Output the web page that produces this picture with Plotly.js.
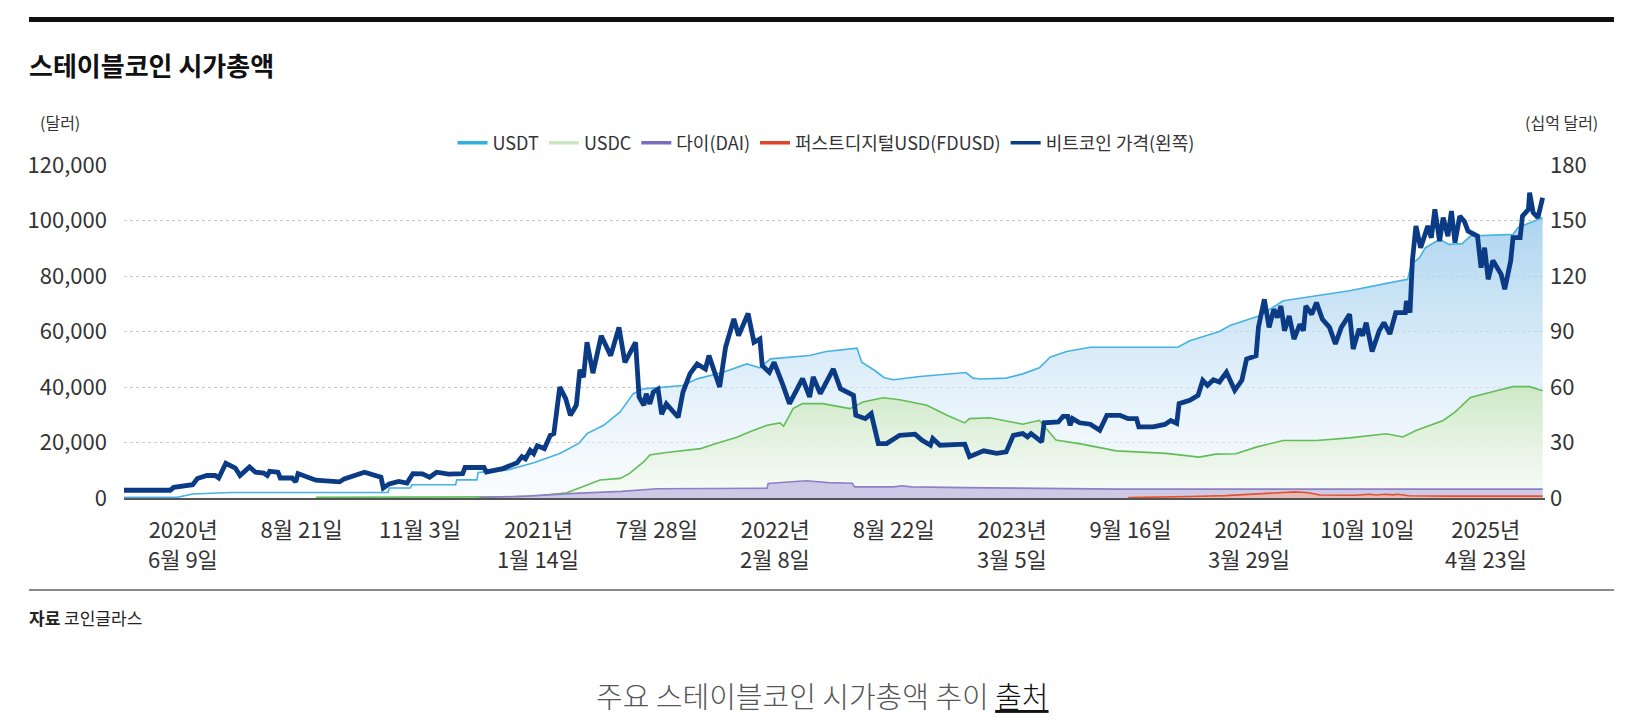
<!DOCTYPE html>
<html>
<head>
<meta charset="utf-8">
<script src="https://cdn.plot.ly/plotly-3.0.1.min.js"></script>
<style>
  html, body { margin: 0; padding: 0; background: #fff; }
  #chart { width: 1638px; height: 723px; }
</style>
</head>
<body>
<div id="chart"></div>
<script>
// time runs as a sample index: one tick label every 10 steps
const tickPos = [5, 15, 25, 35, 45, 55, 65, 75, 85, 95, 105, 115];
const tickTop = ['2020년', '8월 21일', '11월 3일', '2021년', '7월 28일', '2022년', '8월 22일',
  '2023년', '9월 16일', '2024년', '10월 10일', '2025년'];
const tickBottom = ['6월 9일', '', '', '1월 14일', '', '2월 8일', '', '3월 5일', '', '3월 29일', '', '4월 23일'];

// bitcoin price, dollars (left axis)
const btcT = [0, 3.9, 4.2, 5.8, 6.2, 7.0, 7.7, 8.0, 8.6, 9.4, 9.8, 10.6, 11.1, 11.8, 12.1, 12.3, 13.0, 13.2,
  14.2, 14.5, 14.7, 15.9, 16.2, 18.2, 18.6, 20.3, 21.1, 21.7, 21.9, 22.4, 23.2, 23.9, 24.4, 25.2, 25.8, 26.4,
  27.4, 28.6, 28.8, 30.4, 30.6, 32.0, 33.2, 33.6, 33.9, 34.3, 34.6, 34.9, 35.5, 36.0, 36.3, 36.8, 37.3, 37.7,
  38.2, 38.5, 38.8, 39.1, 39.6, 40.3, 41.1, 41.8, 42.3, 43.2, 43.5, 43.9, 44.1, 44.4, 44.7, 45.1, 45.4, 45.8,
  46.8, 47.2, 47.8, 48.4, 49.1, 49.4, 50.3, 50.8, 51.5, 51.9, 52.7, 53.2, 53.7, 53.9, 54.5, 54.9, 55.6, 56.2,
  57.3, 57.9, 58.2, 58.8, 59.9, 60.5, 61.6, 61.8, 62.6, 63.1, 63.7, 64.4, 65.5, 66.8, 67.4, 68.1, 68.3, 68.9,
  71.0, 71.4, 72.6, 73.7, 74.5, 75.1, 75.9, 76.3, 76.6, 77.5, 77.7, 78.9, 79.3, 79.7, 79.9, 80.1, 80.7, 81.6,
  82.4, 83.0, 84.1, 84.8, 85.5, 85.7, 86.9, 87.9, 88.4, 88.9, 89.1, 90.0, 90.7, 91.1, 91.5, 92.0, 92.5, 93.1,
  93.8, 94.4, 94.8, 95.6, 95.8, 96.3, 96.7, 97.1, 97.4, 97.7, 98.0, 98.4, 98.8, 99.3, 99.6, 99.8, 100.3, 100.7,
  101.2, 101.8, 102.3, 102.8, 103.5, 103.8, 104.3, 104.6, 104.9, 105.4, 106.0, 106.4, 106.9, 107.4, 108.2,
  108.3, 108.6, 108.8, 109.1, 109.5, 110.1, 110.4, 110.7, 111.1, 111.4, 111.8, 112.1, 112.4, 112.8, 113.2,
  113.5, 114.3, 114.6, 114.9, 115.2, 115.6, 116.3, 116.6, 117.1, 117.3, 117.9, 118.1, 118.6, 118.7, 119.0,
  119.4, 119.8];
const btcPrice = [2800, 2800, 3850, 4800, 7000, 8100, 8100, 7200, 12500, 10800, 8100, 11200, 9300, 9000, 8100,
  9600, 9300, 7200, 7200, 5800, 8800, 7200, 6400, 5800, 6900, 9300, 8400, 7500, 3600, 5100, 6000, 5400, 8800,
  8700, 7500, 9300, 8600, 8800, 11000, 11000, 9400, 10600, 12700, 14900, 14100, 17200, 16000, 18800, 17800,
  22600, 23200, 40000, 35800, 29800, 33400, 46200, 43500, 56100, 45000, 58500, 51300, 61500, 48900, 56100,
  36400, 33400, 37600, 33900, 38200, 39200, 30200, 33900, 29100, 38100, 44800, 48300, 46500, 51300, 40000,
  54300, 64500, 58500, 66500, 56100, 57300, 47700, 45300, 48900, 41200, 34000, 43000, 36400, 43600, 37600,
  46500, 39400, 37000, 29800, 28600, 30400, 19600, 19600, 22600, 23000, 20800, 19000, 21400, 19000, 19400,
  14900, 17000, 16100, 16600, 22600, 23200, 22000, 23200, 20200, 27100, 27400, 29400, 29400, 26200, 28600,
  27100, 26600, 24400, 29800, 29800, 28600, 28600, 25600, 25600, 26500, 27900, 26900, 34000, 35200, 37000,
  42400, 40600, 42600, 41800, 45300, 38800, 42400, 50100, 51300, 61500, 71600, 61500, 68000, 65000, 69200,
  60300, 65600, 57300, 62600, 60300, 69200, 66200, 70400, 64400, 61500, 55500, 61500, 66200, 53700, 60900,
  58500, 63200, 52800, 60300, 63200, 59100, 66800, 66800, 71000, 66800, 85400, 98000, 90200, 98000, 93800,
  104000, 92600, 101000, 94400, 103400, 92000, 101600, 99600, 96200, 94400, 83000, 90200, 78800, 85600,
  80600, 75200, 85400, 93800, 93800, 101600, 104000, 110000, 102800, 101000, 108200];

// stablecoin market caps, billions of dollars (right axis)
const usdtT = [0, 4.5, 5.8, 9, 22.3, 22.4, 24.2, 24.3, 28.0, 28.1, 29.8, 29.9, 32.3, 34.6, 36.8, 38.4, 39.1,
  40.5, 41.9, 43.0, 43.9, 47.2, 48.4, 50.6, 52.6, 53.7, 54.6, 57.9, 59.3, 61.9, 62.3, 63.4, 64.2, 65.0, 67.2,
  70.5, 71.1, 71.7, 72.3, 74.5, 75.9, 77.3, 78.2, 79.6, 81.6, 89.0, 90.0, 92.5, 93.4, 95.9, 97.9, 100.7,
  103.5, 106.3, 108.4, 108.7, 109.4, 109.9, 111.1, 111.9, 113.0, 113.7, 117.3, 117.7, 119.0, 119.8];
const usdtCap = [0.4, 0.4, 2.2, 3.0, 3.0, 5.4, 5.4, 7.2, 7.2, 9.8, 9.8, 13.8, 15.0, 19.1, 24.1, 29.5, 34.8,
  39.3, 46.5, 56.4, 59.0, 60.8, 64.4, 68.0, 72.5, 70.4, 75.2, 77.0, 79.2, 81.0, 73.4, 68.9, 65.0, 63.9, 65.7,
  67.5, 67.8, 64.8, 64.3, 64.8, 67.1, 70.4, 76.1, 79.2, 81.5, 81.5, 85.0, 90.0, 93.2, 98.5, 106.6, 109.3,
  112.0, 115.6, 118.2, 126.3, 129.9, 135.3, 139.8, 137.1, 137.5, 141.6, 142.5, 146.1, 149.3, 151.5];

const usdcT = [16.2, 33, 35, 37.4, 38.5, 40.2, 41.9, 42.7, 43.9, 44.4, 45.8, 48.7, 50.0, 51.7, 52.8, 54.3,
  55.4, 55.7, 56.2, 56.5, 57.3, 59.0, 61.3, 62.4, 64.1, 65.5, 67.8, 69.5, 71.0, 71.4, 73.1, 75.9, 77.3, 78.7,
  80.9, 83.8, 88.0, 90.8, 92.2, 93.9, 95.6, 97.9, 100.7, 103.5, 106.6, 108.0, 109.1, 111.4, 112.4, 113.7,
  115.9, 117.3, 118.7, 119.8];
const usdcCap = [0.4, 0.6, 1.2, 2.8, 5.5, 9.7, 10.6, 13.3, 19.6, 23.2, 24.6, 26.7, 29.5, 32.7, 35.7, 39.3,
  40.6, 38.8, 44.7, 48.3, 51.0, 51.0, 48.3, 51.9, 54.2, 53.1, 50.1, 44.7, 40.6, 42.9, 43.4, 39.9, 42.0, 31.3,
  29.1, 25.5, 24.1, 22.1, 23.7, 23.9, 27.5, 31.1, 31.1, 32.5, 34.7, 33.0, 36.5, 41.9, 46.4, 54.4, 58.0, 60.2,
  60.2, 58.0];

const daiT = [30, 34, 38, 42, 45, 54.3, 54.4, 57.0, 57.6, 59.5, 61.5, 61.7, 65.0, 65.7, 66.5, 71, 77.5, 84, 119.8];
const daiCap = [0.2, 1.0, 2.5, 3.6, 5.0, 5.3, 7.9, 9.0, 9.3, 8.3, 8.0, 6.0, 6.0, 6.6, 6.0, 5.6, 5.2, 4.8, 4.8];

const fdusdT = [84.8, 89, 90, 93, 96, 98, 98.9, 100, 101, 104, 105.2, 105.8, 106.5, 107.2, 107.5, 108.5, 112, 119.8];
const fdusdCap = [0.2, 0.4, 0.8, 1.3, 2.3, 3.0, 3.3, 2.8, 1.6, 1.5, 2.0, 1.6, 2.0, 1.7, 2.0, 1.2, 1.0, 1.0];

const legendNames = ['USDT', 'USDC', '다이(DAI)', '퍼스트디지털USD(FDUSD)', '비트코인 가격(왼쪽)'];
const legendColors = ['#2fb0e0', '#cde6c4', '#7b6cc0', '#e0452a', '#0c3b85'];

const FONT = 'Noto Sans CJK KR, Noto Sans, sans-serif';
const W = 1638, H = 723;
const M = { l: 124, r: 93, t: 165, b: 225 };
const px = x => (x - M.l) / (W - M.l - M.r);
const py = y => (H - M.b - y) / (H - M.t - M.b);

function flat(c) {
  return { type: 'vertical', colorscale: [[0, c], [1, c]] };
}

const traces = [
  {
    x: usdtT, y: usdtCap, yaxis: 'y', mode: 'lines', showlegend: false,
    line: { color: '#45b3e2', width: 1.6 },
    fill: 'tozeroy',
    fillgradient: { type: 'vertical', colorscale: [[0, 'rgba(246,250,254,0.5)'], [1, 'rgba(158,205,236,0.85)']] }
  },
  {
    x: usdcT, y: usdcCap, yaxis: 'y', mode: 'lines', showlegend: false,
    line: { color: '#62bd57', width: 1.6 },
    fill: 'tozeroy',
    fillgradient: { type: 'vertical', colorscale: [[0, 'rgba(246,251,244,0.6)'], [1, 'rgba(205,232,194,0.95)']] }
  },
  {
    x: daiT, y: daiCap, yaxis: 'y', mode: 'lines', showlegend: false,
    line: { color: '#8d80c4', width: 1.6 },
    fill: 'tozeroy', fillgradient: flat('rgba(196,188,226,0.8)')
  },
  {
    x: fdusdT, y: fdusdCap, yaxis: 'y', mode: 'lines', showlegend: false,
    line: { color: '#e2532c', width: 1.6 },
    fill: 'tozeroy', fillgradient: flat('rgba(240,180,160,0.7)')
  },
  {
    x: btcT, y: btcPrice, yaxis: 'y2', mode: 'lines', showlegend: false,
    line: { color: '#0c3b85', width: 4.8 }
  }
];

// legend-only entries so every swatch is a plain short line
legendNames.forEach((n, k) => {
  traces.push({ name: n, x: [null], y: [null], mode: 'lines', yaxis: 'y',
    line: { color: legendColors[k], width: 3.5 } });
});

const annotations = [
  { text: '<b>스테이블코인 시가총액</b>', xref: 'paper', yref: 'paper', x: px(27), y: py(64),
    xanchor: 'left', yanchor: 'middle', showarrow: false,
    font: { family: FONT, size: 26, color: '#111', weight: 900 } },
  { text: '(달러)', xref: 'paper', yref: 'paper', x: px(38), y: py(122),
    xanchor: 'left', yanchor: 'middle', showarrow: false,
    font: { family: FONT, size: 16, color: '#333' } },
  { text: '(십억 달러)', xref: 'paper', yref: 'paper', x: px(1600), y: py(122),
    xanchor: 'right', yanchor: 'middle', showarrow: false,
    font: { family: FONT, size: 16, color: '#333' } },
  { text: '<b>자료</b> 코인글라스', xref: 'paper', yref: 'paper', x: px(27), y: py(617),
    xanchor: 'left', yanchor: 'middle', showarrow: false,
    font: { family: FONT, size: 17, color: '#222' } },
  { text: '주요 스테이블코인 시가총액 추이 <span style="color:#111"><u>출처</u></span>',
    xref: 'paper', yref: 'paper', x: px(822), y: py(695),
    xanchor: 'center', yanchor: 'middle', showarrow: false,
    font: { family: FONT, size: 29, color: '#555', weight: 300 } }
];

// second line of the date labels
tickPos.forEach((p, k) => {
  if (!tickBottom[k]) return;
  annotations.push({ text: tickBottom[k], xref: 'x', yref: 'paper', x: p, y: py(558),
    xanchor: 'center', yanchor: 'middle', showarrow: false,
    font: { family: FONT, size: 22, color: '#333' } });
});

const layout = {
  width: W, height: H,
  margin: M,
  paper_bgcolor: '#fff',
  plot_bgcolor: '#fff',
  font: { family: FONT, color: '#333' },
  showlegend: true,
  legend: {
    orientation: 'h', x: px(826), xanchor: 'center', y: py(143), yanchor: 'middle',
    font: { family: FONT, size: 18, color: '#333' }, itemwidth: 30, bgcolor: 'rgba(0,0,0,0)'
  },
  xaxis: {
    range: [0, 120], tickvals: tickPos, ticktext: tickTop,
    showgrid: false, zeroline: false, showline: true, linecolor: '#555', linewidth: 1.5,
    ticks: '', ticklabelstandoff: 12,
    tickfont: { family: FONT, size: 22, color: '#333' }
  },
  yaxis: {
    side: 'right', range: [0, 180], tickvals: [0, 30, 60, 90, 120, 150, 180],
    showgrid: true, gridcolor: '#c8c8c8', griddash: 'dot', gridwidth: 1,
    zeroline: false, ticks: '', ticklabelstandoff: 4,
    tickfont: { family: FONT, size: 22, color: '#333' }
  },
  yaxis2: {
    overlaying: 'y', side: 'left', range: [0, 120000],
    tickvals: [0, 20000, 40000, 60000, 80000, 100000, 120000], tickformat: ',',
    showgrid: false, zeroline: false, ticks: '', ticklabelstandoff: 16,
    tickfont: { family: FONT, size: 22, color: '#333' }
  },
  shapes: [
    { type: 'rect', xref: 'paper', yref: 'paper', x0: px(29), x1: px(1614), y0: py(17), y1: py(22),
      fillcolor: '#111', line: { width: 0 } },
    { type: 'line', xref: 'paper', yref: 'paper', x0: px(29), x1: px(1614), y0: py(590), y1: py(590),
      line: { color: '#8a8a8a', width: 2 } }
  ],
  annotations: annotations
};

Plotly.newPlot('chart', traces, layout, { staticPlot: true, displayModeBar: false });
</script>
</body>
</html>
